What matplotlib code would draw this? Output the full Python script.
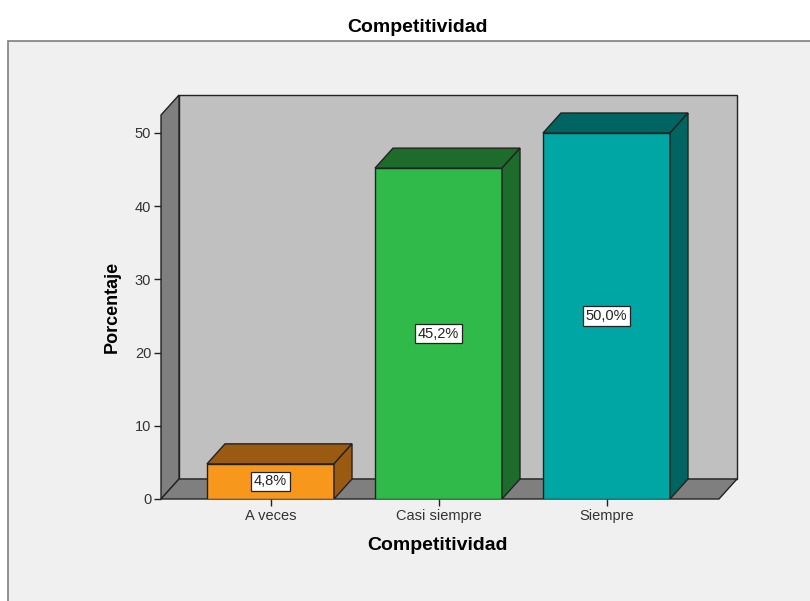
import matplotlib
matplotlib.use("Agg")
import matplotlib.pyplot as plt
from matplotlib.patches import Polygon, Rectangle

plt.rcParams['font.family'] = ['Liberation Sans', 'DejaVu Sans']

categories = ["A veces", "Casi siempre", "Siempre"]
values = [4.8, 45.2, 50.0]
value_labels = ["4,8%", "45,2%", "50,0%"]
yticks = [0, 10, 20, 30, 40, 50]
front_colors = ["#F7981D", "#2FBA4A", "#00A6A3"]
dark_colors = ["#9B5A12", "#1E6C2B", "#006561"]

W, H = 810, 601
fig = plt.figure(figsize=(W / 100, H / 100), dpi=100, facecolor="white")

# outer frame
fig.patches.append(Rectangle((8 / W, -0.01), 1.0, (601 - 41) / H + 0.01, transform=fig.transFigure,
                             facecolor="#F0F0F0", edgecolor="#7F7F7F", linewidth=1.2, zorder=-10))

px_left, px_right, px_top, px_bottom = 161, 737, 95, 499
ax = fig.add_axes([px_left / W, 1 - px_bottom / H, (px_right - px_left) / W, (px_bottom - px_top) / H])
ax.set_facecolor("none")

xs_per_unit = 168.0
ys_per_unit = 7.32
xmin = -(270.5 - px_left) / xs_per_unit
xmax = xmin + (px_right - px_left) / xs_per_unit
ytop_ax = (px_bottom - px_top) / ys_per_unit
ax.set_xlim(xmin, xmax)
ax.set_ylim(0, ytop_ax)

ddx = 18 / xs_per_unit
ddy = 20 / ys_per_unit
yfront_top = ytop_ax - ddy
xfront_right = xmax - ddx

ec = "#222222"
lw = 1.0
# back wall
ax.add_patch(Polygon([(xmin + ddx, ddy), (xmin + ddx, ytop_ax), (xmax, ytop_ax), (xmax, ddy)],
                     closed=True, facecolor="#C0C0C0", edgecolor=ec, linewidth=lw, clip_on=False))
# left wall
ax.add_patch(Polygon([(xmin, 0), (xmin, yfront_top), (xmin + ddx, ytop_ax), (xmin + ddx, ddy)],
                     closed=True, facecolor="#7F7F7F", edgecolor=ec, linewidth=lw, clip_on=False))
# floor
ax.add_patch(Polygon([(xmin, 0), (xmin + ddx, ddy), (xmax, ddy), (xfront_right, 0)],
                     closed=True, facecolor="#7F7F7F", edgecolor=ec, linewidth=lw, clip_on=False))

bw = 127 / xs_per_unit
for i, (v, fc, dc, lab) in enumerate(zip(values, front_colors, dark_colors, value_labels)):
    x0, x1 = i - bw / 2, i + bw / 2
    ax.add_patch(Polygon([(x0, 0), (x0, v), (x1, v), (x1, 0)], closed=True,
                         facecolor=fc, edgecolor=ec, linewidth=lw, zorder=3))
    ax.add_patch(Polygon([(x0, v), (x0 + ddx, v + ddy), (x1 + ddx, v + ddy), (x1, v)], closed=True,
                         facecolor=dc, edgecolor=ec, linewidth=lw, zorder=3))
    ax.add_patch(Polygon([(x1, 0), (x1, v), (x1 + ddx, v + ddy), (x1 + ddx, ddy)], closed=True,
                         facecolor=dc, edgecolor=ec, linewidth=lw, zorder=3))
    ax.text(i, v / 2, lab, ha="center", va="center", fontsize=10.5, color="#222222", zorder=5,
            bbox=dict(boxstyle="square,pad=0.2", facecolor="white", edgecolor="#222222", linewidth=0.9))

for s in ax.spines.values():
    s.set_visible(False)
ax.set_yticks(yticks)
ax.set_yticklabels([str(t) for t in yticks], fontsize=10.5, color="#333333")
ax.set_xticks(range(len(categories)))
ax.set_xticklabels(categories, fontsize=10.5, color="#333333")
ax.tick_params(axis="y", direction="out", length=5, width=1, color="#222222", pad=2)
ax.tick_params(axis="x", direction="out", length=5, width=1, color="#222222", pad=2)
ax.set_ylabel("Porcentaje", fontsize=13, fontweight="bold")
ax.set_xlabel("Competitividad", fontsize=14, fontweight="bold")
ax.yaxis.set_label_coords((112 - px_left) / (px_right - px_left), (499 - 307) / (499 - 95))
ax.xaxis.set_label_coords((438 - px_left) / (px_right - px_left), -(545 - 499) / (499 - 95))
ax.xaxis.label.set_va("center")
ax.yaxis.label.set_va("center")

fig.text(417 / W, 1 - 28 / H, "Competitividad", ha="center", va="center", fontsize=14, fontweight="bold")

fig.savefig("out.png", dpi=100, facecolor="white")
